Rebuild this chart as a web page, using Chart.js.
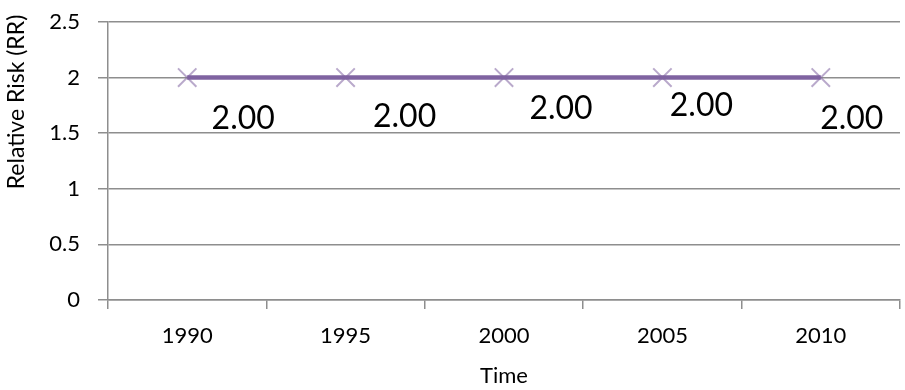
<!DOCTYPE html>
<html>
<head>
<meta charset="utf-8">
<script src="https://cdn.jsdelivr.net/npm/chart.js@4"></script>
<style>
  html, body { margin: 0; padding: 0; background: #ffffff; overflow: hidden; }
  #wrap { position: relative; width: 905px; height: 390px; }
  #chart { display: block; }
</style>
</head>
<body>
<div id="wrap"><canvas id="chart"></canvas></div>
<script>
// Relative risk over time
const years = ['1990', '1995', '2000', '2005', '2010'];
const relativeRisk = [2.00, 2.00, 2.00, 2.00, 2.00];
const yTicks = [0, 0.5, 1, 1.5, 2, 2.5];
const xTitle = 'Time';
const yTitle = 'Relative Risk (RR)';

const GRID = '#8e8e8e';
const PURPLE = '#7f63a1';
const FONT = 'Lato, "Open Sans", sans-serif';

// Value labels beside each point
const valueLabels = {
  id: 'valueLabels',
  afterDatasetsDraw(chart, args, opts) {
    const ctx = chart.ctx;
    const meta = chart.getDatasetMeta(0);
    const values = chart.data.datasets[0].data;
    ctx.save();
    ctx.font = opts.font;
    ctx.fillStyle = opts.color;
    ctx.textAlign = 'center';
    ctx.textBaseline = 'middle';
    meta.data.forEach((pt, i) => {
      const [dx, dy] = opts.offsets[i];
      ctx.fillText(Number(values[i]).toFixed(2), pt.x + dx, pt.y + dy);
    });
    ctx.restore();
  }
};

// Rotated y-axis title
const sideTitle = {
  id: 'sideTitle',
  afterDraw(chart, args, opts) {
    const ctx = chart.ctx;
    ctx.save();
    ctx.translate(opts.x, opts.y);
    ctx.rotate(-Math.PI / 2);
    ctx.font = opts.font;
    ctx.fillStyle = opts.color;
    ctx.textAlign = 'center';
    ctx.textBaseline = 'middle';
    ctx.fillText(opts.text, 0, 0);
    ctx.restore();
  }
};

new Chart(document.getElementById('chart'), {
  type: 'line',
  data: {
    labels: years,
    datasets: [{
      data: relativeRisk,
      borderColor: PURPLE,
      borderWidth: 4.5,
      tension: 0,
      fill: false,
      clip: false,
      pointStyle: 'crossRot',
      pointRadius: 13,
      pointBorderWidth: 2,
      pointBorderColor: 'rgba(127, 99, 161, 0.55)',
      pointBackgroundColor: 'rgba(127, 99, 161, 0.55)'
    }]
  },
  options: {
    responsive: true,
    maintainAspectRatio: false,
    animation: false,
    events: [],
    layout: { autoPadding: false, padding: { top: 22, right: 5, left: 0, bottom: 0 } },
    plugins: {
      legend: { display: false },
      tooltip: { enabled: false },
      valueLabels: {
        font: '32px ' + FONT,
        color: '#000000',
        offsets: [[56, 41], [59, 39], [57, 31], [39, 28], [31, 41]]
      },
      sideTitle: {
        text: yTitle,
        x: 17,
        y: 102,
        font: '23px ' + FONT,
        color: '#000000'
      }
    },
    scales: {
      x: {
        offset: true,
        grid: {
          offset: true,
          drawOnChartArea: false,
          drawTicks: true,
          tickLength: 9,
          color: GRID,
          lineWidth: 1.5
        },
        border: { color: GRID, width: 1.5 },
        ticks: {
          color: '#000000',
          font: { family: FONT, size: 22 },
          padding: 14,
          maxRotation: 0
        },
        title: {
          display: true,
          text: xTitle,
          color: '#000000',
          font: { family: FONT, size: 22 },
          padding: { top: 0, bottom: 1 }
        },
        afterFit(scale) {
          scale.height = 90;
          scale.paddingLeft = 0;
          scale.paddingRight = 0;
        }
      },
      y: {
        min: 0,
        max: 2.5,
        afterBuildTicks(scale) { scale.ticks = yTicks.map(v => ({ value: v })); },
        grid: {
          color: GRID,
          lineWidth: 1.5,
          drawTicks: true,
          tickLength: 10
        },
        border: { color: GRID, width: 1.5 },
        ticks: {
          color: '#000000',
          font: { family: FONT, size: 22 },
          padding: 18,
          callback: v => String(v)
        },
        afterFit(scale) {
          scale.width = 108;
          scale.paddingTop = 0;
          scale.paddingBottom = 0;
        }
      }
    }
  },
  plugins: [valueLabels, sideTitle]
});
</script>
</body>
</html>
